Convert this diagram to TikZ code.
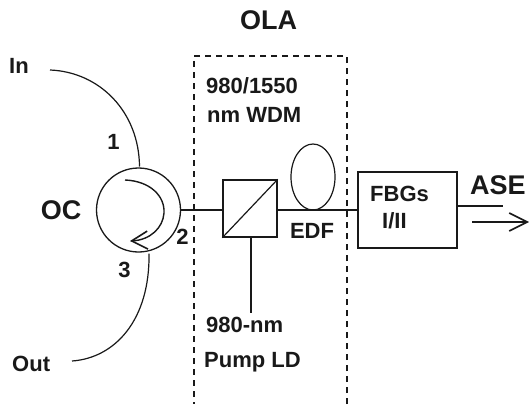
\documentclass[tikz,border=0pt]{standalone}
\usepackage{fontspec}
\setmainfont{Liberation Sans}
\usetikzlibrary{arrows.meta,shapes.geometric}
\begin{document}
\begin{tikzpicture}[x=1pt,y=-1pt,
  fiber/.style={line width=1.2pt,black!90},
  lbl/.style={font=\bfseries\fontsize{22}{24}\selectfont,inner sep=0pt,text=black!90},
  biglbl/.style={font=\bfseries\fontsize{27}{29}\selectfont,inner sep=0pt,text=black!90},
  boxpart/.style={draw,line width=1.3pt,black!90,inner sep=0pt},
  frame/.style={line width=1.2pt,black!90,dash pattern=on 6pt off 5pt}]
\useasboundingbox (0,0) rectangle (529,404);
\fill[white] (0,0) rectangle (529,404);
% OLA frame
\draw[frame] (347,404) -- (347,56) -- (194,56) -- (194,404);
% components
\node[boxpart,circle,minimum size=84pt] (oc) at (138.5,210) {};
\node[boxpart,rectangle,minimum width=54pt,minimum height=57pt] (wdm) at (250,208.5) {};
\node[boxpart,rectangle,minimum width=99pt,minimum height=76pt] (fbg) at (407.5,210) {};
\node[draw,line width=1.2pt,black!90,ellipse,minimum width=44pt,minimum height=66pt,inner sep=0pt] (edf) at (313,177) {};
\coordinate (in) at (50,70);
\coordinate (out) at (72,361);
\coordinate (p1) at (139.5,166.5);
\coordinate (p3) at (149,253.5);
\coordinate (pump) at (251,313);
\coordinate (ase) at (503,206);
\coordinate (a1) at (472,222);
\coordinate (a2) at (529,222);
\coordinate (r1) at (125,180);
\coordinate (r2) at (130,241);
% connectors
\draw[fiber] (in) .. controls (100,72) and (139,112) .. (p1);
\draw[fiber] (out) .. controls (115,358) and (150,320) .. (p3);
\draw[fiber] (oc.east) -- (wdm.west |- oc.east);
\draw[fiber] (wdm.east |- oc.east) -- (fbg.west);
\draw[fiber] (wdm.south west) -- (wdm.north east);
\draw[fiber] (wdm.south -| pump) -- (pump);
\draw[fiber] (fbg.east |- ase) -- (ase);
\draw[fiber,-{Straight Barb[length=18pt,width=18pt,line width=1.6pt]}] (a1) -- (a2);
\draw[line width=1.4pt,black!90,-{Straight Barb[length=16pt,width=18pt,line width=1.6pt]}] (r1) .. controls (150,181) and (165,196) .. (164,213) .. controls (163,228) and (150,240) .. (r2);
% labels
\node[biglbl] (tola) at (268.5,20) {OLA};
\node[lbl,anchor=west] (tin) at (9,66) {In};
\node[lbl,anchor=west] (tout) at (12,364) {Out};
\node[biglbl] (toc) at (61,210) {OC};
\node[lbl] (t1) at (113.5,142) {1};
\node[lbl] (t2) at (182.5,237) {2};
\node[lbl] (t3) at (124.5,270) {3};
\node[lbl,anchor=west] (t9) at (206,85.5) {980/1550};
\node[lbl,anchor=west] (tnm) at (207,115) {nm WDM};
\node[lbl,anchor=west] (t980) at (206,325) {980-nm};
\node[lbl,anchor=west] (tpump) at (204,362) {Pump LD};
\node[lbl] (tedf) at (312,231) {EDF};
\node[lbl,anchor=west] (tf) at (370,194) {FBGs};
\node[lbl,anchor=west] (ti) at (382,221) {I/II};
\node[biglbl,anchor=west] (tase) at (470,185) {ASE};
\end{tikzpicture}
\end{document}
